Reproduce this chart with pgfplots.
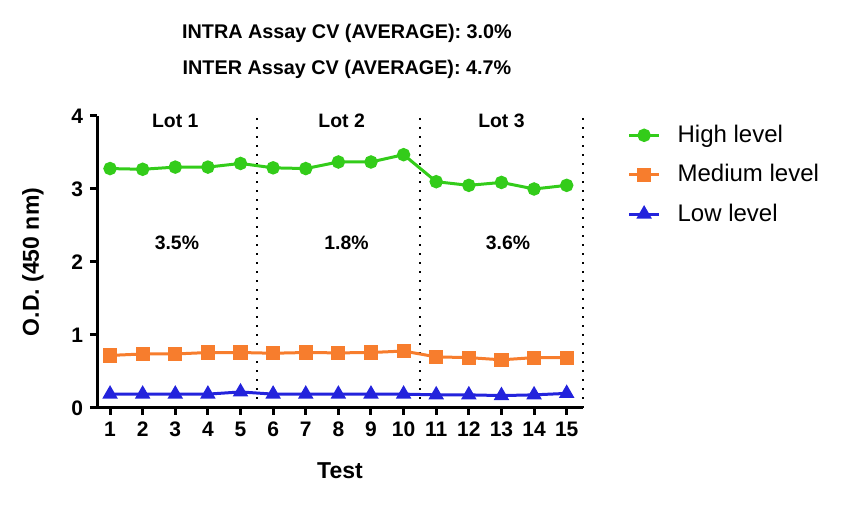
\documentclass[border=0pt]{standalone}
\usepackage{fontspec}
\setmainfont{Liberation Sans}
\usepackage{pgfplots}
\pgfplotsset{compat=1.18}
\definecolor{hi}{RGB}{51,204,26}
\definecolor{med}{RGB}{247,125,45}
\definecolor{lo}{RGB}{35,35,220}

\begin{document}
\begin{tikzpicture}
\path[use as bounding box] (0,0) rectangle (420.5pt,253.5pt);
\node[font=\bfseries\fontsize{9.9}{11}\selectfont] at (173.5pt,237pt) {INTRA Assay CV (AVERAGE): 3.0\%};
\node[font=\bfseries\fontsize{9.9}{11}\selectfont] at (173.5pt,219pt) {INTER Assay CV (AVERAGE): 4.7\%};
\begin{axis}[
    at={(48.5pt,49.5pt)}, anchor=south west,
    scale only axis, width=243pt, height=146pt,
    xmin=0.6, xmax=15.5, ymin=0, ymax=4,
    axis x line*=bottom, axis y line*=left,
    axis line style={line width=1.5pt, -},
    xtick={1,...,15}, ytick={0,1,2,3,4},
    tick align=outside, major tick length=3.5pt,
    tick style={line width=1.5pt, black},
    ticklabel style={font=\bfseries\fontsize{10.5}{12}\selectfont},
    /pgf/number format/assume math mode=true,
    extra x ticks={5.5,10.5,15.5},
    extra x tick labels={},
    extra x tick style={grid=major, major tick length=0pt,
        major grid style={black, line width=1.1pt, dash pattern=on 1.1pt off 3.4pt}},
    xlabel={Test}, ylabel={O.D. (450 nm)},
    every axis x label/.style={at={(rel axis cs:0.5,0)}, yshift=-31.5pt, anchor=center,
        font=\bfseries\fontsize{11.5}{13}\selectfont},
    every axis y label/.style={at={(rel axis cs:0,0.5)}, xshift=-32pt, rotate=90, anchor=center,
        font=\bfseries\fontsize{11.5}{13}\selectfont},
    clip=false,
    legend style={at={(1.091,0.977)}, anchor=north west, draw=none, fill=none,
        inner sep=0pt, row sep=7.5pt, column sep=7.5pt, font=\fontsize{12}{14}\selectfont,
        nodes={inner sep=1pt}},
    legend cell align=left,
    legend image code/.code={\draw[mark repeat=2,mark phase=2] plot coordinates {(0pt,0pt) (7.5pt,0pt) (15pt,0pt)};},
]
\addplot[hi, line width=1.5pt, mark=*, mark size=2.6pt] coordinates {
 (1,3.28) (2,3.27) (3,3.30) (4,3.30) (5,3.35) (6,3.29) (7,3.28) (8,3.37)
 (9,3.37) (10,3.47) (11,3.10) (12,3.05) (13,3.09) (14,3.00) (15,3.05)};
\addlegendentry{High level}
\addplot[med, line width=1.5pt, mark=square*, mark size=2.8pt] coordinates {
 (1,0.72) (2,0.74) (3,0.74) (4,0.76) (5,0.76) (6,0.75) (7,0.76) (8,0.755)
 (9,0.76) (10,0.78) (11,0.70) (12,0.69) (13,0.66) (14,0.69) (15,0.69)};
\addlegendentry{Medium level}
\addplot[lo, line width=1.5pt, mark=triangle*, mark size=3pt] coordinates {
 (1,0.19) (2,0.19) (3,0.19) (4,0.19) (5,0.22) (6,0.19) (7,0.19) (8,0.19)
 (9,0.19) (10,0.19) (11,0.18) (12,0.18) (13,0.17) (14,0.18) (15,0.20)};
\addlegendentry{Low level}
\node[font=\bfseries\fontsize{9.7}{11}\selectfont] at (axis cs:3,3.93) {Lot 1};
\node[font=\bfseries\fontsize{9.7}{11}\selectfont] at (axis cs:8.1,3.93) {Lot 2};
\node[font=\bfseries\fontsize{9.7}{11}\selectfont] at (axis cs:13,3.93) {Lot 3};
\node[font=\bfseries\fontsize{9.7}{11}\selectfont] at (axis cs:3.05,2.26) {3.5\%};
\node[font=\bfseries\fontsize{9.7}{11}\selectfont] at (axis cs:8.25,2.26) {1.8\%};
\node[font=\bfseries\fontsize{9.7}{11}\selectfont] at (axis cs:13.2,2.26) {3.6\%};
\end{axis}
\end{tikzpicture}
\end{document}
